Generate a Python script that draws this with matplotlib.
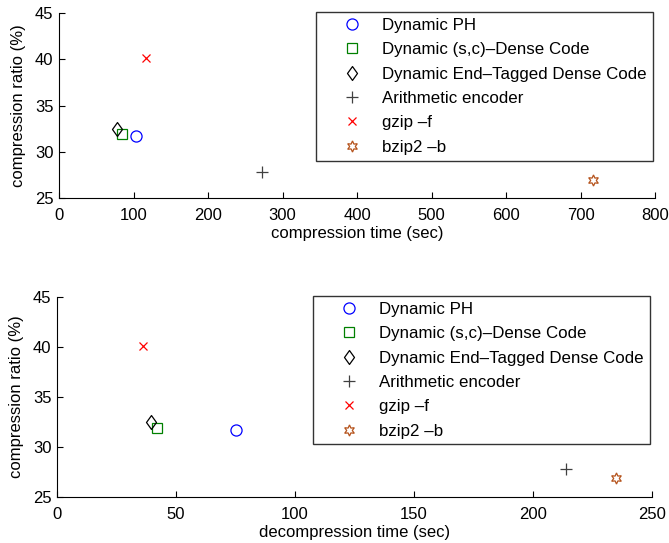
import matplotlib.pyplot as plt
import numpy as np
from matplotlib.path import Path

plt.rcParams['font.family'] = ['Liberation Sans', 'DejaVu Sans']

methods = ['Dynamic PH', 'Dynamic (s,c)\u2013Dense Code', 'Dynamic End\u2013Tagged Dense Code',
           'Arithmetic encoder', 'gzip \u2013f', 'bzip2 \u2013b']
ratio = [31.7, 31.9, 32.5, 27.8, 40.1, 26.9]
comp_time = [103, 85, 78, 272, 117, 717]
decomp_time = [75, 42, 39.5, 214, 36, 235]

# diamond a bit narrower than tall, like matlab's
diamond = Path([(0, 1), (0.72, 0), (0, -1), (-0.72, 0), (0, 1)],
               [Path.MOVETO, Path.LINETO, Path.LINETO, Path.LINETO, Path.CLOSEPOLY])
markers = ['o', 's', diamond, '+', 'x', (6, 1, 0)]
colours = ['blue', 'green', 'black', '#404040', 'red', '#b5531c']
sizes = [8, 6.5, 10, 9, 6, 8]

fig = plt.figure(figsize=(6.69, 5.43), dpi=100)
ax1 = fig.add_axes([59/669, 1-198/543, 596/669, 185/543])
ax2 = fig.add_axes([57/669, 1-497/543, 595/669, 200/543])

def draw(ax, xs, xlim, xticks, xlabel):
    for i, name in enumerate(methods):
        m = markers[i]
        filled = isinstance(m, str) and m in ('+', 'x')
        ax.plot(xs[i], ratio[i], linestyle='none', marker=m, markersize=sizes[i],
                markerfacecolor='none' if not filled else colours[i],
                markeredgecolor=colours[i], markeredgewidth=0.9,
                label=name)
    ax.set_xlim(*xlim)
    ax.set_ylim(25, 45)
    ax.set_xticks(xticks)
    ax.set_yticks([25, 30, 35, 40, 45])
    ax.spines['top'].set_visible(False)
    ax.spines['right'].set_visible(False)
    ax.tick_params(direction='in', labelsize=12, length=4)
    ax.tick_params(axis='x', pad=7)
    ax.tick_params(axis='y', pad=4)
    ax.set_xlabel(xlabel, fontsize=12, labelpad=2.5)
    ax.set_ylabel('compression ratio (%)', fontsize=12, labelpad=6)
    leg = ax.legend(loc='upper right', fontsize=12.2, frameon=True, fancybox=False,
                    edgecolor='black', borderpad=0.35, handlelength=3.6,
                    handletextpad=0.0, labelspacing=0.55, markerscale=1.0,
                    borderaxespad=0, bbox_to_anchor=(1.0 - 2/596, 1.005))
    leg.get_frame().set_linewidth(1.0)

draw(ax1, comp_time, (0, 800), np.arange(0, 801, 100), 'compression time (sec)')
draw(ax2, decomp_time, (0, 250), np.arange(0, 251, 50), 'decompression time (sec)')

fig.savefig('out.png', dpi=100)
